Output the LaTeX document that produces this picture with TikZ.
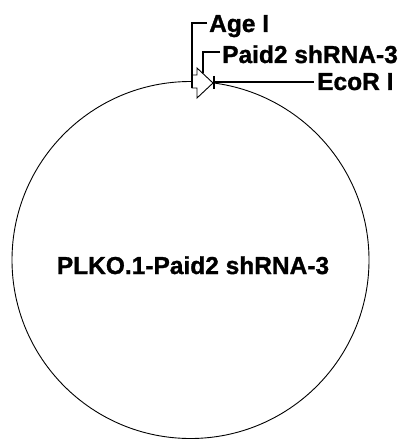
\documentclass[tikz,border=0pt]{standalone}
\usepackage{fontspec}
\setmainfont{Liberation Sans}[BoldFeatures={FakeBold=1.2}]
\begin{document}
\begin{tikzpicture}[x=1pt,y=-1pt,
  lbl/.style={inner sep=0pt,font=\fontsize{24.5}{28}\selectfont\bfseries,anchor=base west},
  leader/.style={line width=1.6pt},
  thin/.style={line width=0.9pt}]
\useasboundingbox (0,0) rectangle (403,441);
% plasmid circle
\node[circle,draw,line width=0.9pt,minimum size=357pt,inner sep=0pt] (plasmid) at (190.5,260) {};
\node[inner sep=0pt,font=\fontsize{24.5}{28}\selectfont\bfseries,anchor=base] (name) at (193,274) {PLKO.1-Paid2 shRNA-3};
% labels
\node[lbl] (age) at (209,32) {Age I};
\node[lbl] (paid) at (222,63) {Paid2 shRNA-3};
\node[lbl] (eco) at (317,90) {EcoR I};
% feature arrow
\draw[thin,fill=white] (192,75) -- (197,75) -- (197,68) -- (213,83) -- (197,98) -- (197,88) -- (192,88) -- cycle;
% site ticks and leaders
\coordinate (ageTop) at (192,23);
\coordinate (ageBot) at (192,88);
\draw[leader] ([xshift=-2pt]age.west |- ageTop) -- (ageTop) -- (ageBot);
\coordinate (paidTop) at (203,52);
\coordinate (paidBot) at (203,73);
\draw[leader] ([xshift=-2pt]paid.west |- paidTop) -- (paidTop) -- (paidBot);
\coordinate (ecoSite) at (214,82);
\draw[leader] (214,76) -- (214,89);
\draw[leader] (ecoSite) -- ([xshift=-3pt]eco.west |- ecoSite);
\end{tikzpicture}
\end{document}
